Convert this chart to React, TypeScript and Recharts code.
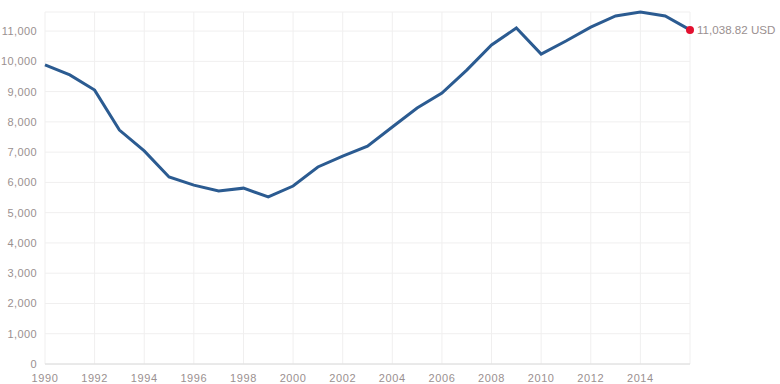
import React from 'react';
import { LineChart, Line, XAxis, YAxis, CartesianGrid } from 'recharts';

const years = [1990,1991,1992,1993,1994,1995,1996,1997,1998,1999,2000,2001,2002,2003,2004,2005,2006,2007,2008,2009,2010,2011,2012,2013,2014,2015,2016];
const values = [9880,9550,9050,7730,7040,6180,5910,5715,5810,5520,5880,6510,6870,7200,7830,8460,8950,9710,10540,11100,10240,10670,11130,11500,11630,11500,11038.82];
const xTicks = [1990,1992,1994,1996,1998,2000,2002,2004,2006,2008,2010,2012,2014];
const yTicks = [0,1000,2000,3000,4000,5000,6000,7000,8000,9000,10000,11000];
const lastLabel = '11,038.82 USD';

const data = years.map((y, i) => ({ year: y, value: values[i] }));

const fmt = (v: number) => v.toLocaleString('en-US');

const LastDot = (props: any) => {
  const { cx, cy, index } = props;
  if (index !== data.length - 1) return <g key={`d${index}`} />;
  return (
    <g key={`d${index}`}>
      <circle cx={cx} cy={cy} r={4} fill="#e3102f" />
      <text x={cx + 7} y={cy} dy={4} fontSize={11.6} fill="#9a9090" fontFamily="Liberation Sans, Arial, sans-serif">{lastLabel}</text>
    </g>
  );
};

export default function App() {
  return (
    <div style={{ position: 'absolute', left: 0, top: 0, width: 780, height: 384, background: '#fff' }}>
      <LineChart width={780} height={384} data={data} margin={{ top: 12, right: 90, left: 0, bottom: 0 }}>
        <CartesianGrid stroke="#f0efef" vertical={true} horizontal={true} />
        <XAxis
          dataKey="year"
          type="number"
          domain={[1990, 2016]}
          ticks={xTicks}
          tickLine={false}
          axisLine={{ stroke: '#dcdcdc' }}
          height={20}
          tick={{ fontSize: 11, fill: '#9a9090', fontFamily: 'Liberation Sans, Arial, sans-serif', letterSpacing: 0.6 }}
          tickMargin={4}
          interval={0}
        />
        <YAxis
          type="number"
          domain={[0, 11630]}
          ticks={yTicks}
          tickFormatter={fmt}
          tickLine={false}
          tickSize={0}
          axisLine={false}
          width={45}
          tick={{ fontSize: 11, fill: '#9a9090', fontFamily: 'Liberation Sans, Arial, sans-serif', letterSpacing: 0.4 }}
          tickMargin={8}
          interval={0}
        />
        <Line
          type="linear"
          dataKey="value"
          stroke="#2b5b91"
          strokeWidth={3}
          dot={LastDot}
          activeDot={false}
          isAnimationActive={false}
        />
      </LineChart>
    </div>
  );
}
